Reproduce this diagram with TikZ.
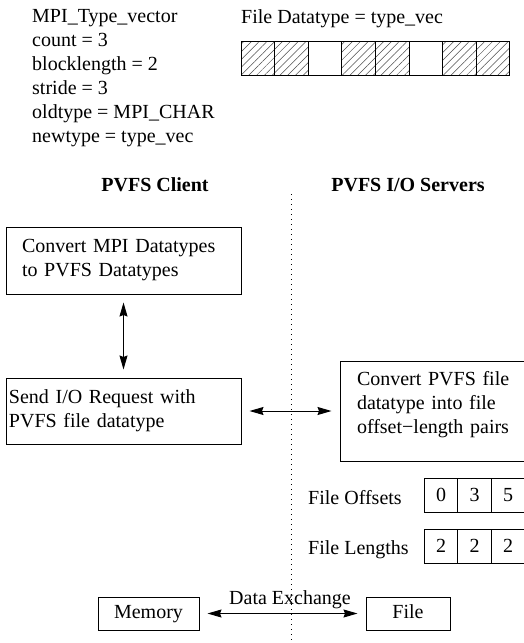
\documentclass[tikz,border=0pt]{standalone}
\usepackage{fontspec}
\setmainfont{Liberation Serif}
\usetikzlibrary{arrows.meta,patterns.meta,positioning}

\tikzset{
	box/.style = {draw, line width=1pt, align=left, inner ysep=0pt, outer sep=0pt},
	smallbox/.style = {draw, line width=1pt, inner sep=0pt, outer sep=0pt, minimum height=33pt, text height=13.5pt, text depth=4.5pt},
	cell/.style = {draw, line width=1pt, minimum width=33.5pt, minimum height=34pt, inner sep=0pt, outer sep=0pt},
	link/.style = {line width=1pt, {Stealth[length=14pt,width=8pt,inset=1.5pt]}-{Stealth[length=14pt,width=8pt,inset=1.5pt]}, shorten <=8.5pt, shorten >=8.5pt},
	hatch/.style = {pattern={Lines[angle=45,distance=5.5pt,line width=0.5pt]}, pattern color=black!70}
}

\begin{document}
\begin{tikzpicture} [x=1pt, y=-1pt, font=\fontsize{20}{24}\selectfont]
	\useasboundingbox (0,0) rectangle (524,643);
	\clip (0,0) rectangle (524,643);
	% vector definition and its file view
	\node[align=left, inner sep=0pt, anchor=north west] (vecdef) at (32,9.5)
		{MPI\_Type\_vector\\ count = 3\\ blocklength = 2\\ stride = 3\\ oldtype = MPI\_CHAR\\ newtype = type\_vec};
	\node[inner sep=0pt, anchor=base west] (ftype) at (241,23) {File Datatype = type\_vec};
	\foreach \h [count=\i from 0] in {1,1,0,1,1,0,1,1}
	{
		\ifnum\h=1 \fill[hatch] (241+33.6*\i,41) rectangle ++(33.6,34); \fi
		\draw[line width=1pt] (241+33.6*\i,41) rectangle ++(33.6,34);
	}
	% column titles and divider
	\node[font=\fontsize{20}{24}\selectfont\bfseries, anchor=base] (client) at (155,191) {PVFS Client};
	\node[font=\fontsize{20}{24}\selectfont\bfseries, anchor=base] (servers) at (408,191) {PVFS I/O Servers};
	\coordinate (divtop) at (291,194);
	\coordinate (divbot) at (291,643);
	\draw[line width=1pt, dash pattern=on 1pt off 4pt] (divtop) -- (divbot);
	% client side
	\node[box, anchor=north west, inner xsep=16pt, text width=203pt, minimum height=67pt] (conv) at (6,227)
		{Convert MPI Datatypes\\ to PVFS Datatypes};
	\node[box, anchor=north west, inner xsep=3pt, text width=229pt, minimum height=66pt] (send) at (6,378)
		{Send I/O Request with\\ PVFS file datatype};
	\draw[link] (conv) -- (send);
	% server side
	\node[box, anchor=north west, inner xsep=17pt, text width=180pt, minimum height=100pt, text depth=66pt] (pairs) at (340,361)
		{Convert PVFS file\\ datatype into file\\ offset−length pairs};
	\draw[link] (send.east) -- (send.east -| pairs.west);
	\node[inner sep=0pt, anchor=base west] (offlbl) at (308,504) {File Offsets};
	\node[inner sep=0pt, anchor=base west] (lenlbl) at (308,554) {File Lengths};
	\foreach \v [count=\i from 0] in {0,3,5}
		\node[cell] (off\i) at (441+33.5*\i,495) {\v};
	\foreach \v [count=\i from 0] in {2,2,2}
		\node[cell] (len\i) at (441+33.5*\i,546) {\v};
	% data exchange
	\node[smallbox, minimum width=101pt] (mem) at (148.5,613.5) {Memory};
	\node[smallbox, minimum width=84pt] (file) at (408,613.5) {File};
	\draw[link] (mem) -- (file);
	\node[inner sep=0pt, anchor=base] (xchg) at (290,604) {Data Exchange};
\end{tikzpicture}
\end{document}
